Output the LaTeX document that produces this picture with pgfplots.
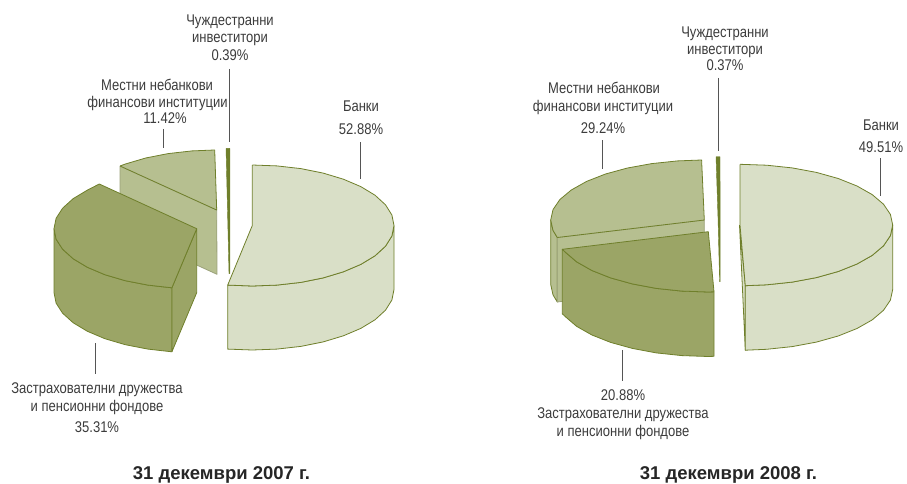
\documentclass[border=0pt]{standalone}
\usepackage{fontspec}
\setmainfont[FakeStretch=0.84]{Liberation Sans}
\newfontfamily\ttlfont[FakeStretch=1.0]{Liberation Sans}
\usepackage{pgfplots}
\pgfplotsset{compat=1.18}
\definecolor{cbank}{HTML}{D9DFC7}
\definecolor{clight}{HTML}{B6BF90}
\definecolor{cdark}{HTML}{9BA566}
\definecolor{cedge}{HTML}{6F7F2B}
\definecolor{ctxt}{HTML}{3C3C3C}
\definecolor{clead}{HTML}{555555}
\tikzset{lab/.style={font=\fontsize{15.5}{17}\selectfont,text=ctxt,inner sep=0pt,anchor=base},
 ttl/.style={font=\ttlfont\fontsize{18.5}{20}\selectfont\bfseries,text=black!85,inner sep=0pt,anchor=base}}
\pgfplotsset{
 pb/.style={fill=cbank,draw=cedge,line width=0.8pt,line join=round,no markers},
 pl/.style={fill=clight,draw=cedge,line width=0.8pt,line join=round,no markers},
 pls/.style={fill=clight,draw=clight!85!black,line width=0.8pt,line join=round,no markers},
 pd/.style={fill=cdark,draw=cedge,line width=0.8pt,line join=round,no markers},
 ps/.style={fill=cedge,draw=cedge,line width=0.4pt,line join=round,no markers},
 lead/.style={draw=clead,line width=0.9pt,no markers}}
\begin{document}
\begin{tikzpicture}
\begin{axis}[hide axis,scale only axis,width=907pt,height=484pt,xmin=0,xmax=907,ymin=0,ymax=484,y dir=reverse,clip=false]
\path (axis cs:0,0) rectangle (axis cs:907,484);
% LEFT PIE -- local non-bank
\addplot[pls] coordinates {(120,166)(216.7,210)(217,274.3)(120,230)(120,166)};
\addplot[pl] coordinates {(120,166)(125.4,164)(145.7,158)(168.1,153.6)(192,150.9)(214.7,150)(216.7,210)(120,166)};
% foreign
\addplot[ps] coordinates {(226,148.3)(229.8,148.3)(229.8,273.7)(229,273.7)(227.5,210)(226,148.3)};
% insurers
\addplot[pd] coordinates {(171.9,287.8)(147.9,285.1)(125.3,280.7)(104.9,274.7)(87.4,267.3)(73.1,258.7)(62.6,249.2)(56.1,239.1)(54,228.7)(54,292.7)(56.1,303.1)(62.6,313.2)(73.1,322.7)(87.4,331.3)(104.9,338.7)(125.3,344.7)(147.9,349.1)(171.9,351.8)(171.9,287.8)};
\addplot[pd] coordinates {(196.7,228.7)(171.9,287.8)(171.9,351.8)(196.7,292.7)(196.7,228.7)};
\addplot[pd] coordinates {(171.9,287.8)(147.9,285.1)(125.3,280.7)(104.9,274.7)(87.4,267.3)(73.1,258.7)(62.6,249.2)(56.1,239.1)(54,228.7)(56.1,218.3)(62.6,208.2)(73.1,198.7)(87.4,190.1)(99.3,184)(196.7,228.7)(171.9,287.8)};
% banks
\addplot[pb] coordinates {(394,225.5)(391.9,236)(385.5,246.2)(375,255.8)(360.8,264.4)(343.4,271.8)(323.2,277.9)(300.8,282.4)(276.9,285.1)(252.3,286)(227.7,285.1)(227.7,349.1)(252.3,350)(276.9,349.1)(300.8,346.4)(323.2,341.9)(343.4,335.8)(360.8,328.4)(375,319.8)(385.5,310.2)(391.9,300)(394,289.5)(394,225.5)};
\addplot[pb] coordinates {(252.3,165)(276.9,165.9)(300.8,168.6)(323.2,173.1)(343.4,179.2)(360.8,186.6)(375,195.2)(385.5,204.8)(391.9,215)(394,225.5)(391.9,236)(385.5,246.2)(375,255.8)(360.8,264.4)(343.4,271.8)(323.2,277.9)(300.8,282.4)(276.9,285.1)(252.3,286)(227.7,285.1)(252.3,225.5)(252.3,165)};
% leaders
\addplot[lead] coordinates {(229,69)(229,142)};
\addplot[lead] coordinates {(163.4,129)(163.4,148)};
\addplot[lead] coordinates {(360,142)(360,179)};
\addplot[lead] coordinates {(95.7,343)(95.7,374)};
% RIGHT PIE -- local non-bank
\addplot[pl] coordinates {(557.3,237.5)(553,230.4)(550.7,220)(550.7,284.5)(553,294.9)(557.3,302)(557.3,237.5)};
\addplot[pls] coordinates {(557.3,237.5)(704.3,220)(704.3,284.5)(557.3,302)(557.3,237.5)};
\addplot[pl] coordinates {(557.3,237.5)(553,230.4)(550.7,220)(553,209.6)(559.9,199.5)(571.3,190)(586.6,181.4)(605.5,174)(627.5,168)(651.8,163.6)(677.6,160.9)(701.6,160)(704.3,220)(557.3,237.5)};
% foreign
\addplot[ps] coordinates {(716,156.7)(720,156.7)(720.2,281.7)(719.6,281.7)(718,218)(716,156.7)};
% insurers
\addplot[pd] coordinates {(714,291.8)(708.3,292)(681.9,291.1)(656.3,288.4)(632.3,283.9)(610.6,277.9)(591.9,270.5)(576.7,261.9)(565.5,252.3)(562.3,249.3)(562.3,313.8)(565.5,316.8)(576.7,326.4)(591.9,335)(610.6,342.4)(632.3,348.4)(656.3,352.9)(681.9,355.6)(708.3,356.5)(714,356.3)(714,291.8)};
\addplot[pd] coordinates {(714,291.8)(708.3,292)(681.9,291.1)(656.3,288.4)(632.3,283.9)(610.6,277.9)(591.9,270.5)(576.7,261.9)(565.5,252.3)(562.3,249.3)(708.3,231.7)(714,291.8)};
% banks
\addplot[pb] coordinates {(739.5,225)(745.3,285.7)(745.3,350.2)(739.5,225)};
\addplot[pb] coordinates {(892.7,225)(890.4,235.6)(883.5,245.8)(872.2,255.4)(857,264)(838.2,271.5)(816.4,277.6)(792.2,282.1)(766.6,284.8)(745.3,285.7)(745.3,350.2)(766.6,349.3)(792.2,346.6)(816.4,342.1)(838.2,336)(857,328.5)(872.2,319.9)(883.5,310.3)(890.4,300.1)(892.7,289.5)(892.7,225)};
\addplot[pb] coordinates {(740,164.3)(766.6,165.2)(792.2,167.9)(816.4,172.4)(838.2,178.5)(857,186)(872.2,194.6)(883.5,204.2)(890.4,214.4)(892.7,225)(890.4,235.6)(883.5,245.8)(872.2,255.4)(857,264)(838.2,271.5)(816.4,277.6)(792.2,282.1)(766.6,284.8)(745.3,285.7)(740,225)(740,164.3)};
% leaders
\addplot[lead] coordinates {(718,78)(718,150.7)};
\addplot[lead] coordinates {(602,140)(602,169)};
\addplot[lead] coordinates {(880.3,158)(880.3,196)};
\addplot[lead] coordinates {(622,350)(622,381)};
% TEXT
\node[lab] at (axis cs:230,26) {Чуждестранни};
\node[lab] at (axis cs:230,43) {инвеститори};
\node[lab] at (axis cs:230,61) {0.39\%};
\node[lab] at (axis cs:157,91) {Местни небанкови};
\node[lab] at (axis cs:157.5,108) {финансови институции};
\node[lab] at (axis cs:165,124) {11.42\%};
\node[lab] at (axis cs:361,112) {Банки};
\node[lab] at (axis cs:361,135) {52.88\%};
\node[lab] at (axis cs:97,393) {Застрахователни дружества};
\node[lab] at (axis cs:97,411) {и пенсионни фондове};
\node[lab] at (axis cs:97,432) {35.31\%};
\node[ttl] at (axis cs:221.5,479) {31 декември 2007 г.};
\node[lab] at (axis cs:725,38) {Чуждестранни};
\node[lab] at (axis cs:725,55) {инвеститори};
\node[lab] at (axis cs:725,71) {0.37\%};
\node[lab] at (axis cs:604,94) {Местни небанкови};
\node[lab] at (axis cs:603,112) {финансови институции};
\node[lab] at (axis cs:603,133) {29.24\%};
\node[lab] at (axis cs:881,131) {Банки};
\node[lab] at (axis cs:881,152) {49.51\%};
\node[lab] at (axis cs:623,400) {20.88\%};
\node[lab] at (axis cs:623,418) {Застрахователни дружества};
\node[lab] at (axis cs:623,436) {и пенсионни фондове};
\node[ttl] at (axis cs:728.5,479) {31 декември 2008 г.};
\end{axis}
\end{tikzpicture}
\end{document}
